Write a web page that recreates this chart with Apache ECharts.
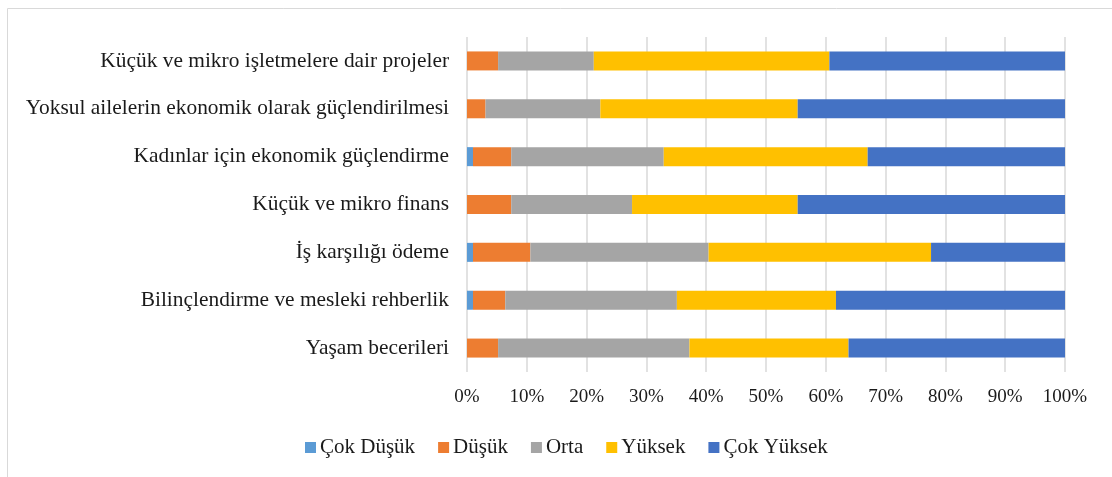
<style>body { margin: 0; }</style>
<div id="chart" style="width: 1112px; height: 477px;"></div>
<script src="https://cdn.jsdelivr.net/npm/echarts@6/dist/echarts.min.js"></script>
<script>
const chart = echarts.init(document.getElementById('chart'));

// categories from top to bottom
const categories = [
  'Küçük ve mikro işletmelere dair projeler',
  'Yoksul ailelerin ekonomik olarak güçlendirilmesi',
  'Kadınlar için ekonomik güçlendirme',
  'Küçük ve mikro finans',
  'İş karşılığı ödeme',
  'Bilinçlendirme ve mesleki rehberlik',
  'Yaşam becerileri'
];

// percentages
const cokDusuk   = [0,    0,    1.0,  0,    1.0,  1.0,  0];
const dusuk      = [5.2,  3.1,  6.4,  7.4,  9.6,  5.4,  5.2];
const orta       = [16.0, 19.2, 25.5, 20.2, 29.8, 28.7, 32.0];
const yuksek     = [39.4, 33.0, 34.1, 27.7, 37.2, 26.6, 26.6];
const cokYuksek  = [39.4, 44.7, 33.0, 44.7, 22.4, 38.3, 36.2];

const seriesNames = ['Çok Düşük', 'Düşük', 'Orta', 'Yüksek', 'Çok Yüksek'];
const seriesData = [cokDusuk, dusuk, orta, yuksek, cokYuksek];
const colors = ['#5B9BD5', '#ED7D31', '#A5A5A5', '#FFC000', '#4472C4'];

const font = '"Liberation Serif", "Times New Roman", serif';

const option = {
  color: colors,
  textStyle: { fontFamily: font },
  // chart frame
  graphic: [{
    type: 'rect',
    shape: { x: 7.5, y: 8.5, width: 1110, height: 480 },
    style: { fill: 'none', stroke: '#d9d9d9', lineWidth: 1 },
    silent: true
  }],
  legend: {
    data: seriesNames,
    left: 300,
    top: 432,
    itemWidth: 11,
    itemHeight: 11,
    itemGap: 23,
    icon: 'rect',
    textStyle: { fontFamily: font, fontSize: 21, color: '#1a1a1a', padding: [0, 0, 0, -1] }
  },
  grid: { left: 467, right: 47, top: 37, bottom: 105 },
  xAxis: {
    type: 'value',
    min: 0,
    max: 100,
    interval: 10,
    axisLine: { show: false },
    axisTick: { show: false },
    splitLine: { show: true, lineStyle: { color: '#d9d9d9', width: 1.5 } },
    axisLabel: { formatter: '{value}%', fontFamily: font, fontSize: 19, color: '#1a1a1a', margin: 16 }
  },
  yAxis: {
    type: 'category',
    data: categories,
    inverse: true,
    axisLine: { show: false },
    axisTick: { show: false },
    axisLabel: { fontFamily: font, fontSize: 21.4, color: '#1a1a1a', margin: 18 }
  },
  series: seriesNames.map((name, i) => ({
    name: name,
    type: 'bar',
    stack: 'total',
    barWidth: 19,
    data: seriesData[i]
  }))
};

chart.setOption(option);
</script>
